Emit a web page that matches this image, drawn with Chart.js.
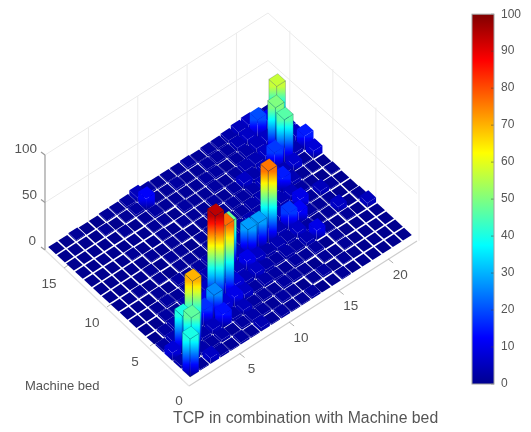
<!DOCTYPE html>
<html><head><meta charset="utf-8">
<script src="https://cdn.jsdelivr.net/npm/chart.js@4"></script>
<style>
html,body{margin:0;padding:0;background:#fff;overflow:hidden}
#wrap{position:relative;width:531px;height:432px}
canvas{position:absolute;filter:blur(0.6px)}
</style></head><body>
<div id="wrap">
<canvas id="bars" width="531" height="432" style="left:0;top:0"></canvas>
<canvas id="cbar" width="91" height="400" style="left:440px;top:0"></canvas>
</div>
<script>
// Values: one list per Machine-bed row, one entry per TCP column (1..22)
const row01=[40,1,6,2,1,2,1,4,1,2,1,1,2,0,0,1,0,0,0,0,0,0];
const row02=[3,47,3,2,3,1,2,3,2,1,2,1,0,1,2,0,1,0,0,0,0,0];
const row03=[8,40,70,3,5,14,3,5,2,2,1,2,2,1,0,1,0,1,0,0,0,0];
const row04=[2,4,8,6,17,26,8,10,6,2,3,2,1,2,1,2,0,1,0,0,0,0];
const row05=[0,2,3,4,5,10,94,77,8,4,6,3,2,3,2,4,10,1,0,1,0,5];
const row06=[0,0,2,1,3,4,6,8,6,5,10,6,3,4,3,6,2,1,1,6,0,1];
const row07=[0,0,1,2,1,2,3,4,3,48,5,28,28,76,4,18,12,2,1,1,0,0];
const row08=[0,0,0,1,0,2,1,2,3,2,3,4,5,6,4,5,3,10,1,5,1,0];
const row09=[0,0,1,0,1,0,1,1,1,2,1,2,3,4,3,3,4,5,2,1,0,1];
const row10=[0,0,0,0,1,0,1,1,0,1,2,1,2,2,3,4,5,15,4,1,1,0];
const row11=[0,0,0,0,0,1,0,1,1,0,1,2,1,2,2,3,5,10,4,7,1,8];
const row12=[0,0,0,0,1,0,0,1,0,1,1,1,2,1,2,6,3,5,18,46,4,15];
const row13=[0,0,0,0,0,0,0,1,1,0,2,1,1,2,1,2,4,4,6,50,5,6];
const row14=[0,0,0,0,0,1,0,1,2,1,1,1,1,2,2,1,2,3,5,6,57,6];
const row15=[0,0,0,0,1,0,1,2,12,1,1,2,1,1,2,2,2,4,6,20,12,4];
const row16=[0,0,1,0,0,1,1,2,5,2,1,1,1,2,1,2,2,3,5,6,4,2];
const rows=[row01,row02,row03,row04,row05,row06,row07,row08,row09,row10,row11,row12,row13,row14,row15,row16];
const xTicks=[5,10,15,20];
const yTicks=[5,10,15];
const zTicks=[0,50,100];
const colorbarTicks=[0,10,20,30,40,50,60,70,80,90,100];
const xTitle="TCP in combination with Machine bed";
const yTitle="Machine bed";

// MATLAB jet colormap
const jetStops=[[0,[0,0,143]],[.125,[0,0,255]],[.375,[0,255,255]],[.625,[255,255,0]],[.875,[255,0,0]],[1,[128,0,0]]];
function jet(v){
  const t=Math.max(0,Math.min(1,v/100));
  for(let i=1;i<jetStops.length;i++){
    const [a,ca]=jetStops[i-1],[b,cb]=jetStops[i];
    if(t<=b){const f=(t-a)/(b-a);
      return `rgb(${ca.map((q,k)=>Math.round(q+(cb[k]-q)*f)).join(',')})`;}
  }
  return 'rgb(128,0,0)';
}
// oblique view of the 3D scene
const floorTip={x:190,y:378}, ux={x:10.14,y:-6.5}, uy={x:-8.94,y:-8.19}, zUnit=.95, half=.435;
function view(c,r,z){return {x:floorTip.x+(c-.5)*ux.x+(r-.5)*uy.x, y:floorTip.y+(c-.5)*ux.y+(r-.5)*uy.y-z*zUnit};}
// axes box
const boxA={x:45,y:250}, boxB={x:268,y:108}, boxC={x:417,y:241}, boxF={x:189,y:386};
const axX={x:9.91,y:-6.3}, axY={x:-8.6,y:-7.8}, axO={x:193,y:385};
const fam='"Liberation Sans",Arial,sans-serif';
const textGrey='#555';

const bars=[];
rows.forEach((vals,ri)=>vals.forEach((v,ci)=>{
  const p=view(ci+1,ri+1,v);
  bars.push({x:p.x,y:p.y,col:ci+1,row:ri+1,value:v});
}));

const bars3d={id:'bars3d',
 beforeDatasetsDraw(chart){
  const ctx=chart.ctx, sx=chart.scales.x, sy=chart.scales.y;
  const px=p=>({x:sx.getPixelForValue(p.x),y:sy.getPixelForValue(p.y)});
  const line=(a,b)=>{const p=px(a),q=px(b);ctx.beginPath();ctx.moveTo(p.x,p.y);ctx.lineTo(q.x,q.y);ctx.stroke();};
  const lift=(p,z)=>({x:p.x,y:p.y-z*zUnit});
  const text=(s,x,y,al)=>{const p=px({x,y});ctx.textAlign=al||'center';ctx.fillText(s,p.x,p.y);};
  ctx.save();
  // walls
  ctx.strokeStyle='#ebebeb';ctx.lineWidth=1;
  [50,100].forEach(z=>{line(lift(boxA,z),lift(boxB,z));line(lift(boxB,z),lift(boxC,z));});
  xTicks.forEach(t=>{const f=(t-.6)/22.6;
    const b={x:boxA.x+(boxB.x-boxA.x)*f,y:boxA.y+(boxB.y-boxA.y)*f};line(b,lift(b,100));});
  yTicks.concat([0]).forEach(t=>{const f=t/17.3;
    const b={x:boxC.x+2+(boxB.x-boxC.x)*f,y:boxC.y+(boxB.y-boxC.y)*f};line(b,lift(b,100));});
  // axes
  ctx.strokeStyle='#9a9a9a';ctx.lineWidth=1.2;
  line(lift(boxA,0),lift(boxA,100));
  zTicks.forEach(z=>{const p=lift(boxA,z);line(p,{x:p.x-4,y:p.y-3});});
  ctx.strokeStyle='#cdcdcd';
  line(boxF,boxC);
  ctx.strokeStyle='#e2e2e2';line(boxF,boxA);
  ctx.strokeStyle='#b0b0b0';ctx.lineWidth=1;
  xTicks.forEach(t=>{const p={x:axO.x-3+t*axX.x,y:axO.y+t*axX.y};line(p,{x:p.x+5,y:p.y+4});});
  yTicks.forEach(t=>{const p={x:axO.x+t*axY.x,y:axO.y+t*axY.y};line(p,{x:p.x+5,y:p.y-3.5});});
  // bars, far to near
  const pts=chart.data.datasets[0].data.slice().sort((a,b)=>(b.col+b.row)-(a.col+a.row)||b.col-a.col);
  pts.forEach(d=>{
    const v=d.value,c=d.col,r=d.row;
    const T=(dc,dr)=>px(view(c+dc,r+dr,v)), G=(dc,dr)=>px(view(c+dc,r+dr,0));
    const tF=T(-half,-half),tL=T(-half,half),tR=T(half,-half),tB=T(half,half);
    const gF=G(-half,-half),gL=G(-half,half),gR=G(half,-half);
    if(v>0){
      const face=(a,b,ga,gb)=>{
        const n=12;
        const g=ctx.createLinearGradient(0,gF.y,0,tF.y);
        for(let i=0;i<=n;i++){g.addColorStop(i/n,jet(v*i/n));}
        ctx.beginPath();ctx.moveTo(a.x,a.y);ctx.lineTo(b.x,b.y);ctx.lineTo(gb.x,gb.y);ctx.lineTo(ga.x,ga.y);ctx.closePath();
        ctx.fillStyle=g;ctx.fill();
        if(v>20){ctx.strokeStyle='rgba(0,30,60,.3)';ctx.lineWidth=.7;ctx.stroke();}
      };
      face(tF,tL,gF,gL);face(tF,tR,gF,gR);
    }
    ctx.beginPath();ctx.moveTo(tF.x,tF.y);ctx.lineTo(tL.x,tL.y);ctx.lineTo(tB.x,tB.y);ctx.lineTo(tR.x,tR.y);ctx.closePath();
    ctx.fillStyle=jet(v);ctx.fill();
    if(v>20){ctx.strokeStyle='rgba(0,40,60,.3)';ctx.lineWidth=.7;ctx.stroke();}
  });
  // text
  ctx.fillStyle=textGrey;ctx.font='13.5px '+fam;ctx.textBaseline='middle';
  text('0',179,401);
  xTicks.forEach(t=>text(String(t),axO.x-3+t*axX.x+12,axO.y+t*axX.y+16));
  yTicks.forEach(t=>text(String(t),axO.x+t*axY.x-15,axO.y+t*axY.y+16.5));
  [[0,241,36],[50,195,37],[100,149,37]].forEach(([z,y,x])=>text(String(z),x,y,'right'));
  ctx.font='13px '+fam;
  text(yTitle,25,386,'left');
  ctx.font='15.8px '+fam;
  text(xTitle,173,419,'left');
  ctx.restore();
 }};

new Chart(document.getElementById('bars'),{
 type:'scatter',
 data:{datasets:[{label:'bars',data:bars,pointRadius:0,pointHoverRadius:0,showLine:false}]},
 options:{responsive:false,animation:false,events:[],layout:{padding:0},
  plugins:{legend:{display:false},tooltip:{enabled:false}},
  scales:{x:{type:'linear',display:false,min:0,max:531},y:{type:'linear',display:false,min:0,max:432,reverse:true}}},
 plugins:[bars3d]});

const cbTicks={id:'cbTicks',afterDraw(chart){
  const c=chart.ctx,a=chart.chartArea,s=chart.scales.y;c.save();c.strokeStyle='rgba(60,60,60,.5)';c.lineWidth=1;
  colorbarTicks.forEach(t=>{const y=s.getPixelForValue(t);c.beginPath();c.moveTo(a.right-3,y);c.lineTo(a.right,y);c.stroke();});
  c.strokeStyle='#a0a0a0';c.strokeRect(a.left,a.top,a.right-a.left,a.bottom-a.top);c.restore();}};
new Chart(document.getElementById('cbar'),{
 type:'bar',
 data:{labels:[''],datasets:[{data:[[0,100]],barPercentage:1,categoryPercentage:1,
   backgroundColor(ctx){const ch=ctx.chart,a=ch.chartArea;if(!a)return '#00f';
     const g=ch.ctx.createLinearGradient(0,a.bottom,0,a.top);
     jetStops.forEach(([t])=>g.addColorStop(t,jet(t*100)));return g;}}]},
 options:{responsive:false,animation:false,events:[],
  layout:{padding:{left:32,top:13,bottom:16,right:0}},
  plugins:{legend:{display:false},tooltip:{enabled:false}},
  scales:{x:{display:false},
   y:{position:'right',min:0,max:100,afterFit(s){s.width=37;},
      afterBuildTicks(s){s.ticks=colorbarTicks.map(v=>({value:v}));},
      grid:{display:false,drawTicks:false},border:{display:false},
      ticks:{color:textGrey,font:{size:12,family:fam},padding:7,autoSkip:false}}}},
 plugins:[cbTicks]});
</script>
</body></html>
